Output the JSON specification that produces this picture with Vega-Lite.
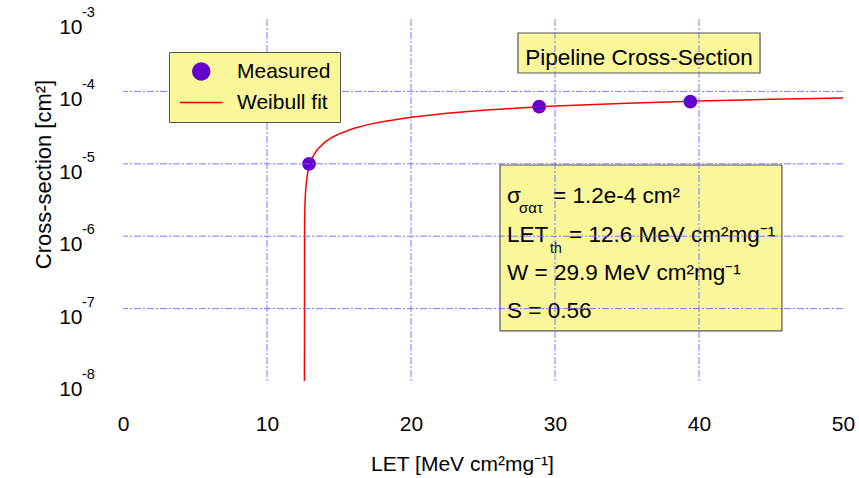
{
  "$schema": "https://vega.github.io/schema/vega-lite/v6.json",
  "width": 720,
  "height": 362,
  "autosize": {"type": "none"},
  "padding": {"left": 123, "top": 19, "right": 16, "bottom": 97},
  "background": "white",
  "datasets": {
    "measured": [
      {"series": "Measured", "let": 12.92, "xs": 1.0e-5},
      {"series": "Measured", "let": 28.9, "xs": 6.15e-5},
      {"series": "Measured", "let": 39.4, "xs": 7.2e-5}
    ],
    "fit": [
      {"series": "Weibull fit", "let": 12.6, "xs": 1e-8},
      {"series": "Weibull fit", "let": 12.61, "xs": 1.35e-6},
      {"series": "Weibull fit", "let": 12.63, "xs": 2.49e-6},
      {"series": "Weibull fit", "let": 12.65, "xs": 3.30e-6},
      {"series": "Weibull fit", "let": 12.7, "xs": 4.83e-6},
      {"series": "Weibull fit", "let": 12.8, "xs": 7.05e-6},
      {"series": "Weibull fit", "let": 12.9, "xs": 8.78e-6},
      {"series": "Weibull fit", "let": 13.0, "xs": 1.025e-5},
      {"series": "Weibull fit", "let": 13.25, "xs": 1.327e-5},
      {"series": "Weibull fit", "let": 13.5, "xs": 1.574e-5},
      {"series": "Weibull fit", "let": 14, "xs": 1.978e-5},
      {"series": "Weibull fit", "let": 14.5, "xs": 2.309e-5},
      {"series": "Weibull fit", "let": 15, "xs": 2.593e-5},
      {"series": "Weibull fit", "let": 16, "xs": 3.074e-5},
      {"series": "Weibull fit", "let": 17, "xs": 3.475e-5},
      {"series": "Weibull fit", "let": 18, "xs": 3.822e-5},
      {"series": "Weibull fit", "let": 20, "xs": 4.405e-5},
      {"series": "Weibull fit", "let": 22.5, "xs": 4.997e-5},
      {"series": "Weibull fit", "let": 25, "xs": 5.485e-5},
      {"series": "Weibull fit", "let": 27.5, "xs": 5.90e-5},
      {"series": "Weibull fit", "let": 30, "xs": 6.266e-5},
      {"series": "Weibull fit", "let": 35, "xs": 6.875e-5},
      {"series": "Weibull fit", "let": 40, "xs": 7.369e-5},
      {"series": "Weibull fit", "let": 45, "xs": 7.784e-5},
      {"series": "Weibull fit", "let": 50, "xs": 8.137e-5}
    ],
    "exponents": [
      {"v": 0.001, "e": "-3"},
      {"v": 0.0001, "e": "-4"},
      {"v": 0.00001, "e": "-5"},
      {"v": 0.000001, "e": "-6"},
      {"v": 0.0000001, "e": "-7"},
      {"v": 0.00000001, "e": "-8"}
    ],
    "gridx": [{"g": 10}, {"g": 20}, {"g": 30}, {"g": 40}],
    "gridy": [{"g": 0.0001}, {"g": 0.00001}, {"g": 0.000001}, {"g": 0.0000001}]
  },
  "config": {
    "view": {"stroke": null},
    "font": "Liberation Sans",
    "axis": {
      "domain": false,
      "ticks": false,
      "tickSize": 0,
      "grid": false,
      "labelFont": "Liberation Sans",
      "labelFontSize": 21,
      "labelColor": "#000000",
      "titleFont": "Liberation Sans",
      "titleFontWeight": "normal",
      "titleColor": "#000000",
      "labelFlush": false,
      "labelOverlap": false,
      "labelBound": false
    },
    "axisX": {
      "labelPadding": 49,
      "labelBaseline": "alphabetic",
      "titleFontSize": 21,
      "titleX": 339,
      "titleY": 89,
      "titleBaseline": "alphabetic",
      "titleAlign": "center"
    },
    "axisY": {
      "labelPadding": 41,
      "labelBaseline": "alphabetic",
      "labelOffset": 14.5,
      "titleFontSize": 22,
      "titleX": -73,
      "titleY": 155,
      "titleAngle": -90,
      "titleBaseline": "alphabetic",
      "titleAlign": "center"
    }
  },
  "layer": [
    {
      "data": {"name": "fit"},
      "mark": {"type": "line", "strokeWidth": 1.5, "zindex": 2},
      "encoding": {
        "x": {
          "field": "let", "type": "quantitative",
          "scale": {"domain": [0, 50], "nice": false, "zero": false},
          "axis": {
            "title": "LET [MeV cm²mg⁻¹]",
            "values": [0, 10, 20, 30, 40, 50]
          }
        },
        "y": {
          "field": "xs", "type": "quantitative",
          "scale": {"type": "log", "domain": [1e-8, 1e-3], "nice": false},
          "axis": {
            "title": "Cross-section [cm²]",
            "values": [1e-8, 1e-7, 1e-6, 1e-5, 1e-4, 1e-3],
            "labelExpr": "'10'"
          }
        },
        "color": {
          "field": "series", "type": "nominal",
          "scale": {"domain": ["Measured", "Weibull fit"], "range": ["#6600cc", "#ff0000"]},
          "legend": {
            "orient": "none",
            "legendX": 46,
            "legendY": 33,
            "title": null,
            "fillColor": "#f9f79a",
            "strokeColor": "#555555",
            "padding": 9,
            "rowPadding": 8,
            "labelFont": "Liberation Sans",
            "labelFontSize": 21,
            "labelColor": "#000000",
            "labelOffset": 38,
            "symbolSize": 289,
            "symbolStrokeWidth": 1.5,
            "encode": {
              "symbols": {
                "update": {
                  "shape": {"signal": "datum.value === 'Measured' ? 'M2.5,0A1,1,0,1,1,0.5,0A1,1,0,1,1,2.5,0Z' : 'M-1,0H4'"},
                  "size": {"value": 289},
                  "fill": {"signal": "datum.value === 'Measured' ? '#6600cc' : 'transparent'"},
                  "stroke": {"signal": "datum.value === 'Measured' ? 'transparent' : '#ff0000'"},
                  "strokeWidth": {"value": 1.5},
                  "opacity": {"value": 1}
                }
              }
            }
          }
        }
      }
    },
    {
      "data": {"name": "measured"},
      "mark": {"type": "point", "filled": true, "shape": "circle", "size": 190, "opacity": 1, "zindex": 2},
      "encoding": {
        "x": {"field": "let", "type": "quantitative"},
        "y": {"field": "xs", "type": "quantitative"},
        "color": {"field": "series", "type": "nominal"}
      }
    },
    {
      "data": {"name": "exponents"},
      "mark": {"type": "text", "align": "left", "baseline": "alphabetic", "fontSize": 14.5, "dx": -41, "dy": -2, "color": "#000000"},
      "encoding": {
        "x": {"datum": 0},
        "y": {"field": "v", "type": "quantitative"},
        "text": {"field": "e"}
      }
    },
    {
      "data": {"values": [{"label": "Pipeline Cross-Section"}]},
      "mark": {"type": "rect", "fill": "#f9f79a", "stroke": "#555555", "strokeWidth": 1.2},
      "encoding": {
        "x": {"datum": 27.43}, "x2": {"datum": 44.24},
        "y": {"datum": 0.000641}, "y2": {"datum": 0.0001795}
      }
    },
    {
      "data": {"values": [{"label": "Pipeline Cross-Section"}]},
      "mark": {"type": "text", "align": "center", "baseline": "alphabetic", "fontSize": 22.5, "color": "#000000"},
      "encoding": {
        "x": {"datum": 35.83}, "y": {"datum": 0.000234},
        "text": {"field": "label"}
      }
    },
    {
      "data": {"values": [{"label": "params"}]},
      "mark": {"type": "rect", "fill": "#f9f79a", "stroke": "#555555", "strokeWidth": 1.2},
      "encoding": {
        "x": {"datum": 26.18}, "x2": {"datum": 45.76},
        "y": {"datum": 0.00000962}, "y2": {"datum": 0.0000000491}
      }
    },
    {
      "data": {"values": [{"label": ["σ", "LET", "W = 29.9 MeV cm²mg⁻¹", "S = 0.56"]}]},
      "mark": {"type": "text", "align": "left", "baseline": "alphabetic", "fontSize": 22.5, "lineHeight": 38.2, "color": "#000000"},
      "encoding": {
        "x": {"datum": 26.67}, "y": {"datum": 0.00000283},
        "text": {"field": "label"}
      }
    },
    {
      "data": {"values": [{"label": "= 1.2e-4 cm²"}]},
      "mark": {"type": "text", "align": "left", "baseline": "alphabetic", "fontSize": 22.5, "dx": 46, "color": "#000000"},
      "encoding": {
        "x": {"datum": 26.67}, "y": {"datum": 0.00000283},
        "text": {"field": "label"}
      }
    },
    {
      "data": {"values": [{"label": "= 12.6 MeV cm²mg⁻¹"}]},
      "mark": {"type": "text", "align": "left", "baseline": "alphabetic", "fontSize": 22.5, "dx": 62, "dy": 38.2, "color": "#000000"},
      "encoding": {
        "x": {"datum": 26.67}, "y": {"datum": 0.00000283},
        "text": {"field": "label"}
      }
    },
    {
      "data": {"values": [{"label": "σατ"}]},
      "mark": {"type": "text", "align": "left", "baseline": "alphabetic", "fontSize": 15, "dx": 12, "dy": 9.5, "color": "#000000"},
      "encoding": {
        "x": {"datum": 26.67}, "y": {"datum": 0.00000283},
        "text": {"field": "label"}
      }
    },
    {
      "data": {"values": [{"label": "th"}]},
      "mark": {"type": "text", "align": "left", "baseline": "alphabetic", "fontSize": 14, "dx": 43, "dy": 49.5, "color": "#000000"},
      "encoding": {
        "x": {"datum": 26.67}, "y": {"datum": 0.00000283},
        "text": {"field": "label"}
      }
    },
    {
      "data": {"name": "gridx"},
      "mark": {"type": "rule", "color": "#6a6aff", "strokeWidth": 1, "strokeDash": [7, 2, 2, 2], "opacity": 0.9, "zindex": 1},
      "encoding": {
        "x": {"field": "g", "type": "quantitative"}
      }
    },
    {
      "data": {"name": "gridy"},
      "mark": {"type": "rule", "color": "#6a6aff", "strokeWidth": 1, "strokeDash": [7, 2, 2, 2], "opacity": 0.9, "zindex": 1},
      "encoding": {
        "y": {"field": "g", "type": "quantitative"}
      }
    }
  ]
}
